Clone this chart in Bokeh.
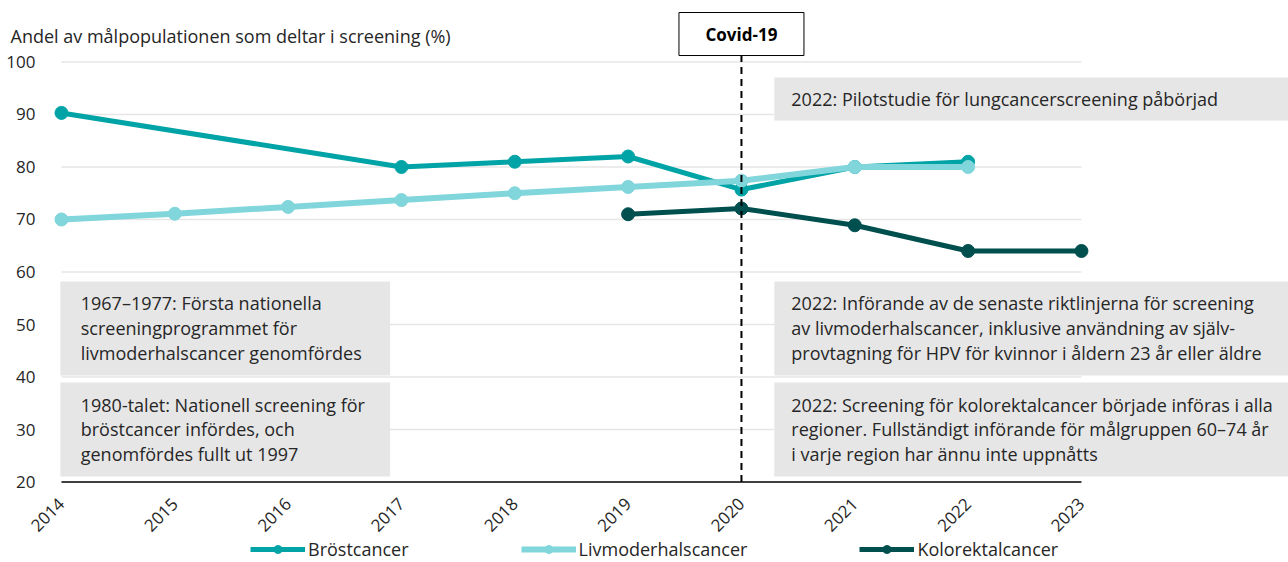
import math

from bokeh.core.properties import value
from bokeh.embed import file_html
from bokeh.models import FixedTicker, Label, Legend, LegendItem, Range1d
from bokeh.plotting import figure
from bokeh.resources import INLINE

# ---- data -------------------------------------------------------------
years = [2014, 2015, 2016, 2017, 2018, 2019, 2020, 2021, 2022, 2023]
y_ticks = [20, 30, 40, 50, 60, 70, 80, 90, 100]

brost_years = [2014, 2017, 2018, 2019, 2020, 2021, 2022]
brost = [90.3, 80.0, 81.0, 82.0, 75.7, 80.0, 81.0]

livmoder_years = [2014, 2015, 2016, 2017, 2018, 2019, 2020, 2021, 2022]
livmoder = [70.0, 71.1, 72.4, 73.7, 75.0, 76.2, 77.4, 80.0, 80.0]

kolorektal_years = [2019, 2020, 2021, 2022, 2023]
kolorektal = [71.0, 72.1, 68.9, 64.0, 64.0]

series_names = ["Bröstcancer", "Livmoderhalscancer", "Kolorektalcancer"]
series_colors = ["#00a3a6", "#80d6db", "#004f4f"]

covid_year = 2020
y_title = "Andel av målpopulationen som deltar i screening (%)"

notes_left = [
    "1967–1977: Första nationella\nscreeningprogrammet för\nlivmoderhalscancer genomfördes",
    "1980-talet: Nationell screening för\nbröstcancer infördes, och\ngenomfördes fullt ut 1997",
]
notes_right = [
    "2022: Pilotstudie för lungcancerscreening påbörjad",
    "2022: Införande av de senaste riktlinjerna för screening\nav livmoderhalscancer, inklusive användning av själv-\nprovtagning för HPV för kvinnor i åldern 23 år eller äldre",
    "2022: Screening för kolorektalcancer började införas i alla\nregioner. Fullständigt införande för målgruppen 60–74 år\ni varje region har ännu inte uppnåtts",
]

FONT = "Open Sans"
TEXT = "#262626"

# ---- figure -----------------------------------------------------------
# The frame spans the whole canvas; the axes sit at fixed data locations
# so that the title and legend can live inside the frame.
p = figure(
    width=1288, height=562,
    x_range=Range1d(2013.462, 2024.827), y_range=Range1d(4.667, 111.714),
    min_border=0, min_border_left=0, min_border_right=0,
    min_border_top=0, min_border_bottom=0,
    output_backend="svg", toolbar_location=None,
)
p.outline_line_color = None
p.xgrid.visible = False
p.ygrid.visible = False

p.xaxis.ticker = FixedTicker(ticks=years)
p.xaxis.major_label_orientation = math.pi / 4
p.xaxis.fixed_location = y_ticks[0]
p.yaxis.ticker = FixedTicker(ticks=y_ticks)
p.yaxis.fixed_location = years[0]
for ax in (p.xaxis, p.yaxis):
    ax.axis_line_color = None
    ax.major_tick_line_color = None
    ax.minor_tick_line_color = None
    ax.major_label_text_font = FONT
    ax.major_label_text_color = TEXT
p.xaxis.major_label_text_font_size = "17px"
p.yaxis.major_label_text_font_size = "17px"
p.yaxis.major_label_standoff = 20
p.xaxis.major_label_standoff = 13

# horizontal grid lines across the year span, and the baseline at 20
p.segment(x0=[years[0]] * (len(y_ticks) - 1), x1=[years[-1]] * (len(y_ticks) - 1),
          y0=y_ticks[1:], y1=y_ticks[1:], line_color="#e6e6e6", line_width=1.5)
p.segment(x0=[years[0]], x1=[years[-1]], y0=[y_ticks[0]], y1=[y_ticks[0]],
          line_color="#404040", line_width=2)

# note boxes
box_fill = "#e6e6e6"
p.quad(left=[2013.99, 2013.99], right=[2016.9, 2016.9],
       top=[58.2, 38.95], bottom=[40.3, 21.05], fill_color=box_fill, line_color=None)
p.quad(left=[2020.29] * 3, right=[2024.83] * 3,
       top=[97.05, 58.2, 38.95], bottom=[88.85, 40.3, 21.05],
       fill_color=box_fill, line_color=None)

note_style = dict(text_font=value(FONT), text_font_size="18px", text_color=TEXT,
                  text_align="left", text_baseline="middle", text_line_height=1.04)
p.text(x=[2014.17, 2014.17], y=[49.25, 30.0], text=notes_left, **note_style)
p.text(x=[2020.44] * 3, y=[92.95, 49.25, 30.0], text=notes_right, **note_style)

# series
legend_items = []
for name, xs, ys, color, lw in zip(
        series_names,
        [brost_years, livmoder_years, kolorektal_years],
        [brost, livmoder, kolorektal],
        series_colors, [5, 6, 5]):
    lr = p.line(xs, ys, line_color=color, line_width=lw)
    cr = p.scatter(xs, ys, size=13, fill_color=color, line_color=color)
    legend_items.append(LegendItem(label=name, renderers=[lr, cr]))

# Covid-19 marker
p.segment(x0=[covid_year], x1=[covid_year], y0=[y_ticks[0]], y1=[101.24],
          line_color="black", line_width=2, line_dash="7 5")
p.rect(x=[covid_year], y=[105.33], width=125, height=43,
       width_units="screen", height_units="screen",
       fill_color="white", line_color="black", line_width=1)
p.text(x=[covid_year], y=[105.33], text=["Covid-19"],
       text_font=value(FONT), text_font_size="17px", text_font_style="bold",
       text_color="black", text_align="center", text_baseline="middle")

# axis title
p.add_layout(Label(x=10, y=527, x_units="screen", y_units="screen", text=y_title,
                   text_font=FONT, text_font_size="18px", text_color=TEXT,
                   text_baseline="middle"))

legend = Legend(items=legend_items, orientation="horizontal", location=(250, 1),
                glyph_width=55, glyph_height=20, spacing=112, label_standoff=3,
                padding=0, margin=0, border_line_color=None, background_fill_alpha=0,
                label_text_font=FONT, label_text_font_size="18px",
                label_text_color=TEXT)
p.add_layout(legend)

open("out.html", "w").write(file_html(p, INLINE))
